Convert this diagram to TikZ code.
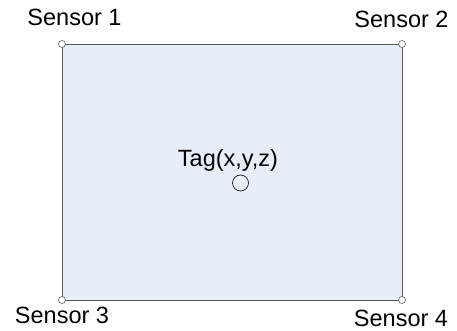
\documentclass[tikz,border=0pt]{standalone}
\usepackage{fontspec}
\setmainfont{Liberation Sans}
\begin{document}
\begin{tikzpicture}[x=1pt,y=1pt,
  area/.style={draw=black!65,fill={rgb,255:red,232;green,238;blue,247},line width=0.8pt},
  sensorpt/.style={circle,draw=black!65,fill=white,line width=0.6pt,inner sep=0pt,minimum size=7pt},
  tagpt/.style={circle,draw=black,fill=none,line width=0.6pt,inner sep=0pt,minimum size=16pt},
  lbl/.style={font=\fontsize{23.5}{27}\selectfont,anchor=base,inner sep=0pt}]
\useasboundingbox (0,0) rectangle (457,331);
\coordinate (c1) at (62,287);
\coordinate (c2) at (402,287);
\coordinate (c3) at (62,31);
\coordinate (c4) at (402,31);
\draw[area] (c1) -- (c2) -- (c4) -- (c3) -- cycle;
\node[sensorpt] (s1) at (c1) {};
\node[sensorpt] (s2) at (c2) {};
\node[sensorpt] (s3) at (c3) {};
\node[sensorpt] (s4) at (c4) {};
\node[lbl] (l1) at (74.5,305) {Sensor 1};
\node[lbl] (l2) at (401.5,303) {Sensor 2};
\node[lbl] (l3) at (62,7) {Sensor 3};
\node[lbl] (l4) at (401,4) {Sensor 4};
\node[lbl] (tl) at (228,164) {Tag(x,y,z)};
\node[tagpt] (tag) at (240.5,148) {};
\end{tikzpicture}
\end{document}
